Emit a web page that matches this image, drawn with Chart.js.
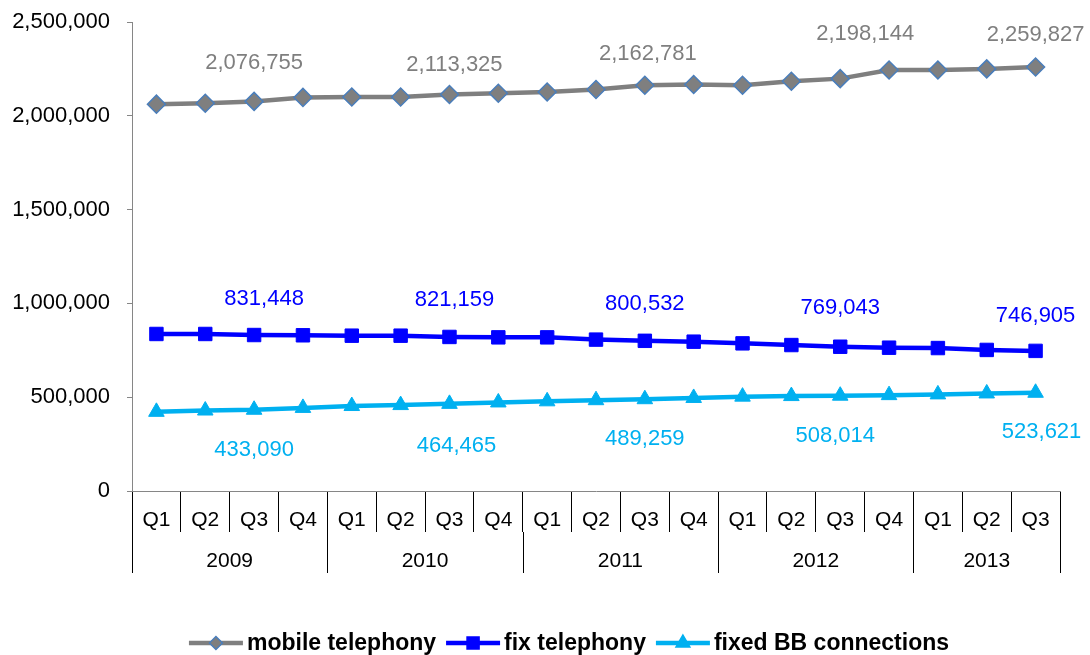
<!DOCTYPE html>
<html>
<head>
<meta charset="utf-8">
<script src="https://cdn.jsdelivr.net/npm/chart.js@4.4.1/dist/chart.umd.min.js"></script>
<style>
  html, body { margin: 0; padding: 0; background: #fff; }
  #wrap { width: 1090px; height: 655px; position: relative; }
</style>
</head>
<body>
<div id="wrap"><canvas id="c" width="1090" height="655"></canvas></div>
<script>
// ---- data ----
const quarters = ['Q1','Q2','Q3','Q4','Q1','Q2','Q3','Q4','Q1','Q2','Q3','Q4','Q1','Q2','Q3','Q4','Q1','Q2','Q3'];
const years = ['2009','2010','2011','2012','2013'];
const quartersPerYear = [4, 4, 4, 4, 3];
const mobileTelephony = [2062000, 2067000, 2076755, 2098000, 2100000, 2100000, 2113325, 2120000, 2127000, 2140000, 2162781, 2167000, 2163000, 2184000, 2198144, 2244000, 2244000, 2250000, 2259827];
const fixTelephony = [837000, 837000, 831448, 830000, 828000, 828000, 821159, 819000, 819000, 807000, 800532, 796000, 787000, 778000, 769043, 764000, 762000, 752000, 746905];
const fixedBB = [422000, 429000, 433090, 443000, 453000, 458000, 464465, 472000, 478000, 484000, 489259, 496000, 503000, 506000, 508014, 511000, 515000, 520000, 523621];
const seriesNames = ['mobile telephony', 'fix telephony', 'fixed BB connections'];
const labelledPoints = [2, 6, 10, 14, 18];
const yTicks = [0, 500000, 1000000, 1500000, 2000000, 2500000];

const FONT = '"Liberation Sans", Arial, Helvetica, sans-serif';
const C_MOBILE = '#7F7F7F', C_MOBILE_BORDER = '#4A7EBB';
const C_FIX = '#0000FF';
const C_BB = '#00B0F0';

function fmt(v) { return v.toLocaleString('en-US'); }

// label offsets relative to the point (plugin option, not data)
const labelOffsets = [
  [[0, -38], [5, -30], [3, -31], [25, -45], [0, -32]],
  [[10, -36], [5, -37], [0, -37], [0, -39], [0, -35]],
  [[0, 40], [7, 42], [0, 40], [-5, 40], [6, 39]]
];
const labelColors = [C_MOBILE, C_FIX, C_BB];

const dataLabelPlugin = {
  id: 'dataLabels',
  afterDatasetsDraw(chart) {
    const ctx = chart.ctx;
    ctx.save();
    ctx.font = '22px ' + FONT;
    ctx.textAlign = 'center';
    ctx.textBaseline = 'middle';
    chart.data.datasets.forEach((ds, di) => {
      const meta = chart.getDatasetMeta(di);
      labelledPoints.forEach((pi, k) => {
        const el = meta.data[pi];
        const off = labelOffsets[di][k];
        ctx.fillStyle = labelColors[di];
        ctx.fillText(fmt(ds.data[pi]), el.x + off[0], el.y + off[1]);
      });
    });
    ctx.restore();
  }
};

const yearAxisPlugin = {
  id: 'yearAxis',
  afterDraw(chart) {
    const x = chart.scales.x;
    const ctx = chart.ctx;
    const half = (x.getPixelForValue(1) - x.getPixelForValue(0)) / 2;
    const top = chart.chartArea.bottom;
    ctx.save();
    ctx.strokeStyle = '#000';
    ctx.lineWidth = 1;
    let start = 0;
    const bounds = [0];
    quartersPerYear.forEach(n => { start += n; bounds.push(start); });
    bounds.forEach(b => {
      const px = Math.round(x.getPixelForValue(b) - half) + 0.5;
      ctx.beginPath(); ctx.moveTo(px, top + 41); ctx.lineTo(px, top + 82); ctx.stroke();
    });
    ctx.fillStyle = '#000';
    ctx.font = '21px ' + FONT;
    ctx.textAlign = 'center';
    ctx.textBaseline = 'middle';
    years.forEach((y, i) => {
      const a = x.getPixelForValue(bounds[i]) - half;
      const b = x.getPixelForValue(bounds[i + 1]) - half;
      ctx.fillText(y, (a + b) / 2, top + 70);
    });
    ctx.restore();
  }
};

// legend: line + marker, drawn with the datasets' own styles
const legendPlugin = {
  id: 'lineLegend',
  afterDraw(chart) {
    const ctx = chart.ctx;
    const o = chart.options.plugins.lineLegend;
    ctx.save();
    ctx.font = 'bold 23px ' + FONT;
    ctx.textBaseline = 'middle';
    const ds = chart.data.datasets;
    const widths = ds.map(d => ctx.measureText(d.label).width);
    const total = widths.reduce((a, b) => a + b, 0) + ds.length * (o.iconW + o.gap) + (ds.length - 1) * o.itemGap;
    let x = o.centerX - total / 2;
    const y = o.y;
    ds.forEach((d, i) => {
      ctx.strokeStyle = d.borderColor; ctx.lineWidth = 4.5;
      ctx.beginPath(); ctx.moveTo(x, y); ctx.lineTo(x + o.iconW, y); ctx.stroke();
      ctx.fillStyle = d.pointBackgroundColor; ctx.strokeStyle = d.pointBorderColor; ctx.lineWidth = 1.5;
      Chart.helpers.drawPoint(ctx, { pointStyle: d.pointStyle, radius: o.markerR[i], rotation: 0, borderWidth: 1.5 }, x + o.iconW / 2, y);
      ctx.fillStyle = '#000';
      ctx.fillText(d.label, x + o.iconW + o.gap, y + 1);
      x += o.iconW + o.gap + widths[i] + o.itemGap;
    });
    ctx.restore();
  }
};

new Chart(document.getElementById('c'), {
  type: 'line',
  data: {
    labels: quarters,
    datasets: [
      {
        label: seriesNames[0], data: mobileTelephony,
        borderColor: C_MOBILE, backgroundColor: C_MOBILE, borderWidth: 4.5,
        pointStyle: 'rectRot', pointRadius: 9, pointBackgroundColor: C_MOBILE,
        pointBorderColor: C_MOBILE_BORDER, pointBorderWidth: 1.5, tension: 0
      },
      {
        label: seriesNames[1], data: fixTelephony,
        borderColor: C_FIX, backgroundColor: C_FIX, borderWidth: 4.5,
        pointStyle: 'rect', pointRadius: 9.5, pointBackgroundColor: C_FIX,
        pointBorderColor: C_FIX, pointBorderWidth: 1, tension: 0
      },
      {
        label: seriesNames[2], data: fixedBB,
        borderColor: C_BB, backgroundColor: C_BB, borderWidth: 4.5,
        pointStyle: 'triangle', pointRadius: 9, pointBackgroundColor: C_BB,
        pointBorderColor: C_BB, pointBorderWidth: 1, tension: 0
      }
    ]
  },
  options: {
    responsive: false,
    animation: false,
    devicePixelRatio: 1,
    layout: { padding: { top: 22, right: 30, left: 0, bottom: 64 } },
    scales: {
      x: {
        type: 'category',
        offset: true,
        grid: { offset: true, drawOnChartArea: false, drawTicks: true, tickLength: 41, color: '#000', lineWidth: 1 },
        border: { display: true, color: '#868686', width: 1 },
        ticks: { color: '#000', font: { family: FONT, size: 21 }, padding: -24, maxRotation: 0, autoSkip: false },
        afterFit(s) { s.height = 100; s.paddingLeft = 0; s.paddingRight = 0; }
      },
      y: {
        min: 0, max: 2500000,
        afterBuildTicks(s) { s.ticks = yTicks.map(v => ({ value: v })); },
        grid: { drawOnChartArea: false, drawTicks: true, tickLength: 5, color: '#868686' },
        border: { display: true, color: '#868686', width: 1 },
        ticks: { color: '#000', font: { family: FONT, size: 22 }, padding: 17, callback: v => fmt(v) },
        afterFit(s) { s.width = 132; s.paddingTop = 0; s.paddingBottom = 0; }
      }
    },
    plugins: {
      tooltip: { enabled: false },
      legend: { display: false },
      lineLegend: { centerX: 569, y: 643, iconW: 54, gap: 4, itemGap: 10, markerR: [6.5, 8.5, 8] }
    }
  },
  plugins: [dataLabelPlugin, yearAxisPlugin, legendPlugin]
});
</script>
</body>
</html>
